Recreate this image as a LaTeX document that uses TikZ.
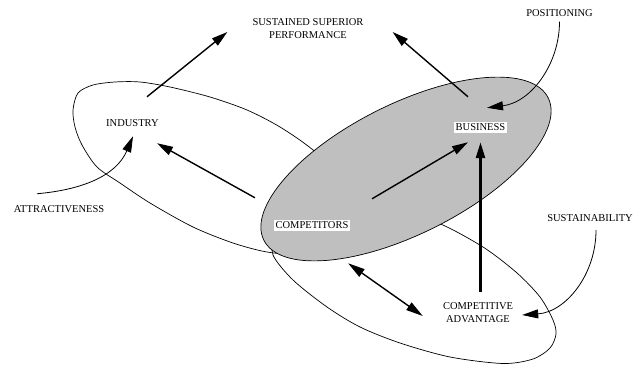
\documentclass[tikz,border=0pt]{standalone}
\usepackage{fontspec}
\setmainfont{Liberation Serif}
\usetikzlibrary{arrows.meta}
\begin{document}
\begin{tikzpicture}[x=1pt,y=1pt,
  lbl/.style={inner sep=2pt, font=\fontsize{10.5}{12.5}\selectfont, align=center},
  tag/.style={lbl, fill=white},
  oval/.style={line width=0.7pt},
  arr/.style={line width=1.4pt, -{Triangle[length=16pt,width=9pt]}},
  biarr/.style={line width=1.4pt, {Triangle[length=17pt,width=9pt]}-{Triangle[length=17pt,width=9pt]}},
  curved/.style={line width=0.8pt, -{Triangle[length=16pt,width=9pt]}}]
\useasboundingbox (0,0) rectangle (639,365);

\draw[oval] plot[smooth cycle] coordinates {(73,255) (78,272) (93,280) (115,283) (140,283) (170,278) (210,268) (247,255) (280,238) (313,215) (350,180) (358,143) (335,117) (298,111) (267,113) (233,122) (193,138) (150,162) (120,182) (97,198) (82,220) (75,238)};
\draw[oval] plot[smooth cycle] coordinates {(438,142) (483,118) (517,92) (540,68) (553,45) (556,31) (550,17) (533,6) (503,1.5) (450,8) (400,22) (360,38) (327,58) (293,85) (273,110) (276,128) (300,142) (350,148) (400,149)};
\draw[oval, fill=black!25, rotate around={26.6:(406,196)}] (406,196) ellipse [x radius=159, y radius=65];

\node[lbl] (sustained) at (308,336.5) {SUSTAINED SUPERIOR\\PERFORMANCE};
\node[lbl] (positioning) at (559.5,352) {POSITIONING};
\node[lbl] (industry) at (132.5,242) {INDUSTRY};
\node[tag] (business) at (480.5,237.5) {BUSINESS};
\node[tag] (competitors) at (312,139.5) {COMPETITORS};
\node[lbl] (attractiveness) at (59,156) {ATTRACTIVENESS};
\node[lbl] (sustainability) at (590,147) {SUSTAINABILITY};
\node[lbl] (advantage) at (478,52.5) {COMPETITIVE\\ADVANTAGE};

\draw[arr] ([xshift=14.5pt,yshift=20.5pt]industry.north) -- ([xshift=-23pt,yshift=-3.5pt]sustained.west);
\draw[arr] ([xshift=-12.5pt,yshift=25pt]business.north) -- ([xshift=27pt,yshift=-3.5pt]sustained.east);
\draw[curved, shorten <=3pt] (positioning.south) to[out=-90,in=7] ([xshift=6.5pt,yshift=14pt]business.north);
\draw[arr] ([xshift=21.5pt,yshift=21pt]competitors.north east) -- ([xshift=-12.5pt,yshift=-9pt]business.south);
\draw[arr, line width=2.6pt, shorten <=8.75pt, shorten >=9pt] (business.south |- advantage.north) -- (business.south);
\draw[arr] ([xshift=-18.5pt,yshift=22pt]competitors.north west) -- ([xshift=24.5pt,yshift=-14.5pt]industry.south);
\draw[curved] ([xshift=-22pt,yshift=9.5pt]attractiveness.north) to[out=5,in=247] ([xshift=0.5pt,yshift=-7.5pt]industry.south);
\draw[biarr] ([xshift=-2.5pt,yshift=-32pt]competitors.south east) -- ([xshift=-18pt,yshift=-3.5pt]advantage.west);
\draw[curved] ([xshift=6pt,yshift=-6.5pt]sustainability.south) to[out=-90,in=4] ([xshift=7pt,yshift=-2.5pt]advantage.east);
\end{tikzpicture}
\end{document}
